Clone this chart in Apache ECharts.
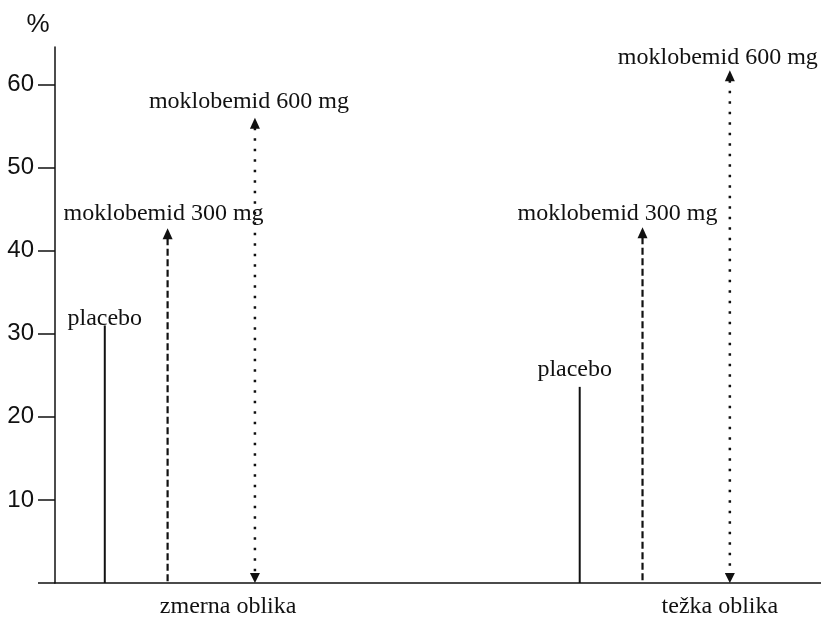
<!DOCTYPE html>
<html>
<head>
<meta charset="utf-8">
<script src="https://cdn.jsdelivr.net/npm/echarts@6/dist/echarts.min.js"></script>
<style>
html, body { margin: 0; padding: 0; background: #fff; }
#chart { width: 821px; height: 619px; }
</style>
</head>
<body>
<div id="chart"></div>
<script>
(function(){
	"use strict";

	// data
	var groups = ['zmerna oblika', 'težka oblika'];
	var doses = ['placebo', 'moklobemid 300 mg', 'moklobemid 600 mg'];
	var zmerna = [31, 42.7, 56];
	var tezka = [23.6, 42.8, 61.7];
	var yTicks = [10, 20, 30, 40, 50, 60];

	// layout (x axis runs 0..100 across the plot)
	var groupStart = [6.5, 68.5];
	var doseOffset = [0, 8.2, 19.6];
	var groupLabelAt = [22.6, 86.8];
	var labelShift = [
		[[0, -7], [-4, -14], [-6, -16]],
		[[-5, -17], [-25, -14], [-12, -13]]
	];
	var doseStyle = [
		{ dash: null, width: 2, up: false, down: false },
		{ dash: [7, 3.5], width: 2.2, up: true, down: false },
		{ dash: [2.5, 8], width: 2.5, up: true, down: true }
	];

	var ink = '#111';
	var serif = '"Liberation Serif", "Times New Roman", serif';
	var sans = '"Liberation Sans", Arial, sans-serif';

	var values = [zmerna, tezka];

	var renderDose = function(d){
		return function(params, api){
			var x = api.value(0), v = api.value(1), g = api.value(2);
			var top = api.coord([x, v]), base = api.coord([x, 0]);
			var st = doseStyle[d];
			var kids = [];
			var y1 = top[1], y2 = base[1];
			if (st.up) {
				kids.push({ type: 'polygon', shape: { points: [[top[0], top[1]], [top[0] - 5, top[1] + 11], [top[0] + 5, top[1] + 11]] }, style: { fill: ink } });
				y1 = top[1] + 10;
			}
			if (st.down) {
				kids.push({ type: 'polygon', shape: { points: [[base[0], base[1]], [base[0] - 5, base[1] - 10], [base[0] + 5, base[1] - 10]] }, style: { fill: ink } });
				y2 = base[1] - 9;
			}
			kids.push({
				type: 'line',
				shape: { x1: top[0], y1: y1, x2: base[0], y2: y2 },
				style: { stroke: ink, lineWidth: st.width, lineDash: st.dash }
			});
			var sh = labelShift[g][d];
			kids.push({
				type: 'text',
				x: top[0] + sh[0], y: top[1] + sh[1],
				style: { text: doses[d], fill: ink, font: '24px ' + serif, align: 'center', verticalAlign: 'middle' }
			});
			return { type: 'group', children: kids };
		};
	};

	var series = doses.map(function(name, d){
		return {
			type: 'custom',
			name: name,
			renderItem: renderDose(d),
			data: groups.map(function(gName, g){
				return [groupStart[g] + doseOffset[d], values[g][d], g];
			}),
			silent: true,
			animation: false
		};
	});

	var chart = echarts.init(document.getElementById('chart'));
	chart.setOption({
		backgroundColor: '#fff',
		animation: false,
		grid: { left: 55, right: 0, top: 47, bottom: 36 },
		xAxis: {
			type: 'value',
			min: 0, max: 100,
			splitLine: { show: false },
			axisLine: { show: true, onZero: false, lineStyle: { color: ink, width: 1.5 } },
			axisTick: { show: false },
			axisLabel: {
				customValues: groupLabelAt,
				margin: 12,
				color: ink,
				fontFamily: serif,
				fontSize: 24,
				formatter: function(val){
					var i = groupLabelAt.indexOf(val);
					return i >= 0 ? groups[i] : '';
				}
			}
		},
		yAxis: {
			type: 'value',
			min: 0, max: 64.5,
			name: '%',
			nameLocation: 'end',
			nameGap: 9,
			nameTextStyle: { color: ink, fontFamily: sans, fontSize: 26, align: 'center', padding: [0, 34, 0, 0] },
			splitLine: { show: false },
			axisLine: { show: true, lineStyle: { color: ink, width: 1.5 } },
			axisTick: { show: true, length: 17, customValues: [0].concat(yTicks), lineStyle: { color: ink, width: 1.5 } },
			axisLabel: {
				customValues: yTicks,
				margin: 21,
				color: ink,
				fontFamily: sans,
				fontSize: 24
			}
		},
		series: series
	});
})();
</script>
</body>
</html>
